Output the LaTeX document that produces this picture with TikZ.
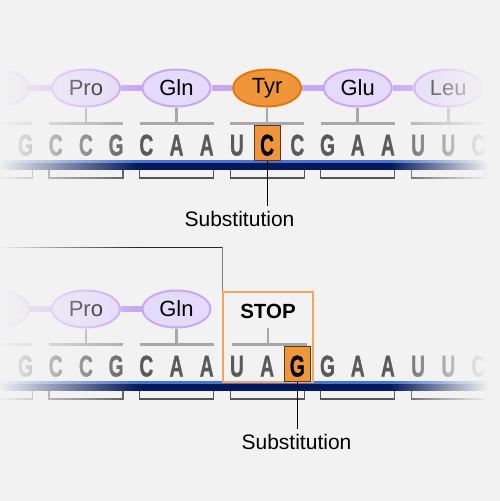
\documentclass[tikz,border=0pt]{standalone}
\usepackage{fontspec}
\setmainfont{Liberation Sans}
\newfontfamily\nucfont[FakeBold=1.2]{Liberation Sans}
\usepackage{graphicx}
\usetikzlibrary{fadings,shapes.geometric}
\definecolor{bg}{HTML}{F2F2F2}
\definecolor{lav}{HTML}{E4DAFB}
\definecolor{lavline}{HTML}{C8A8F5}
\definecolor{orng}{HTML}{F0953A}
\definecolor{orngdk}{HTML}{E07812}
\definecolor{boxbr}{HTML}{5A3818}
\definecolor{letg}{HTML}{5A5A5A}
\definecolor{tgray}{HTML}{A8A8A8}
\definecolor{brk}{HTML}{555555}
\definecolor{strandlt}{HTML}{4A72D0}
\definecolor{stranddk}{HTML}{03195A}
\definecolor{stopbr}{HTML}{F2A65A}
\tikzfading[name=fadeleft, left color=transparent!0, right color=transparent!100]
\tikzfading[name=faderight, left color=transparent!100, right color=transparent!0]
\newcommand{\nt}[1]{\scalebox{0.64}[1]{\fontsize{30}{30}\selectfont\nucfont\bfseries #1}}
\tikzset{
  aa/.style={ellipse, draw=lavline, line width=2pt, fill=lav, minimum width=68pt,
    minimum height=37pt, inner sep=0pt, font=\fontsize{22}{22}\selectfont},
  link/.style={lavline, line width=6pt},
  tbar/.style={tgray, line width=3pt},
  tstem/.style={tgray, line width=2.5pt},
  brack/.style={brk, line width=1.2pt},
  nuc/.style={inner sep=0pt, anchor=base},
  hlbox/.style={draw=boxbr, line width=1pt, fill=orng, minimum width=26pt,
    minimum height=35pt, inner sep=0pt},
  subline/.style={black, line width=0.8pt},
  sublabel/.style={anchor=base, inner sep=5pt, font=\fontsize{21}{21}\selectfont},
}
\begin{document}
\begin{tikzpicture}[x=1pt,y=-1pt]
\useasboundingbox (0,0) rectangle (500,501);
\fill[bg] (0,0) rectangle (500,501);

% ---------- strands ----------
\foreach \oy in {0,221}{
  \fill[strandlt] (0,160+\oy) rectangle (500,163.3+\oy);
  \fill[stranddk] (0,163.3+\oy) rectangle (500,170+\oy);
  \foreach \c in {-4.7,85.9,176.5,267.1,357.7,448.3}{
    \draw[brack] (\c-37,170+\oy) -- (\c-37,178+\oy) -- (\c+37,178+\oy) -- (\c+37,170+\oy);
  }
}

% ---------- top panel ----------
\foreach \c in {-4.7,85.9,176.5,267.1,357.7,448.3}{
  \draw[tbar] (\c-37,123) -- (\c+37,123);
}
\node[aa] (lft) at (-4.7,88) {};
\node[aa] (pro) at (85.9,88) {Pro};
\node[aa] (gln) at (176.5,88) {Gln};
\node[aa, fill=orng, draw=orngdk] (tyr) at (267.1,88) {Tyr};
\node[aa] (glu) at (357.7,88) {Glu};
\node[aa] (leu) at (448.3,88) {Leu};
\coordinate (rgt) at (540,88);
\draw[link] (lft) -- (pro);
\draw[link] (pro) -- (gln);
\draw[link] (gln) -- (tyr);
\draw[link] (tyr) -- (glu);
\draw[link] (glu) -- (leu);
\draw[link] (leu) -- (rgt);
\foreach \n in {lft,pro,gln,tyr,glu,leu}{
  \draw[tstem] (\n.south) -- (\n.south |- 0,123);
}
\node[hlbox] (sub1) at (267.1,142.5) {};
\foreach \L [count=\i from 0] in {G,C,C,G,C,A,A,U,C,C,G,A,A,U,U,C}{
  \pgfmathsetmacro\xx{25.5+30.2*\i}
  \ifnum\i=8 \def\cc{black}\else\def\cc{letg}\fi
  \node[nuc, text=\cc] (t\i) at (\xx,155.5) {\nt{\L}};
}

% ---------- bottom panel ----------
\foreach \c in {-4.7,85.9,176.5}{
  \draw[tbar] (\c-37,344) -- (\c+37,344);
}
\node[aa] (lft2) at (-4.7,309) {};
\node[aa] (pro2) at (85.9,309) {Pro};
\node[aa] (gln2) at (176.5,309) {Gln};
\draw[link] (lft2) -- (pro2);
\draw[link] (pro2) -- (gln2);
\foreach \n in {lft2,pro2,gln2}{
  \draw[tstem] (\n.south) -- (\n.south |- 0,344);
}
\node[draw=stopbr, line width=1.2pt, minimum width=90pt, minimum height=90pt,
  inner sep=0pt] (stopbox) at (268,337) {};
\node[anchor=base, inner sep=0pt, font=\fontsize{20.5}{20.5}\selectfont\bfseries] (stoptxt) at (268,318) {STOP};
\coordinate (stopstem) at (268,328);
\draw[tstem] (stopstem) -- (stopstem |- 0,344);
\draw[tbar] (232,344) -- (307,344);
\node[hlbox] (sub2) at (297.3,364) {};
\foreach \L [count=\i from 0] in {G,C,C,G,C,A,A,U,A,G,G,A,A,U,U,C}{
  \pgfmathsetmacro\xx{25.5+30.2*\i}
  \ifnum\i=9 \def\cc{black}\else\def\cc{letg}\fi
  \node[nuc, text=\cc] (b\i) at (\xx,376.5) {\nt{\L}};
}
\coordinate (lstart) at (0,247);
\coordinate (corner) at (stopbox.north west |- lstart);
\draw[black!85, line width=1pt] (lstart) -- (corner);
\draw[black!50, line width=1.5pt] (corner) -- (stopbox.north west);

% ---------- edge fades ----------
\fill[bg, path fading=fadeleft] (-2,0) rectangle (138,501);
\fill[bg, path fading=faderight] (390,0) rectangle (488,501);
\fill[bg] (488,0) rectangle (500,501);

% ---------- substitution labels ----------
\node[sublabel] (lab1) at (239.5,226.5) {Substitution};
\draw[subline] (sub1.south) -- (sub1.south |- lab1.north);
\node[sublabel] (lab2) at (296.5,449) {Substitution};
\draw[subline] (sub2.south) -- (sub2.south |- lab2.north);
\end{tikzpicture}
\end{document}
